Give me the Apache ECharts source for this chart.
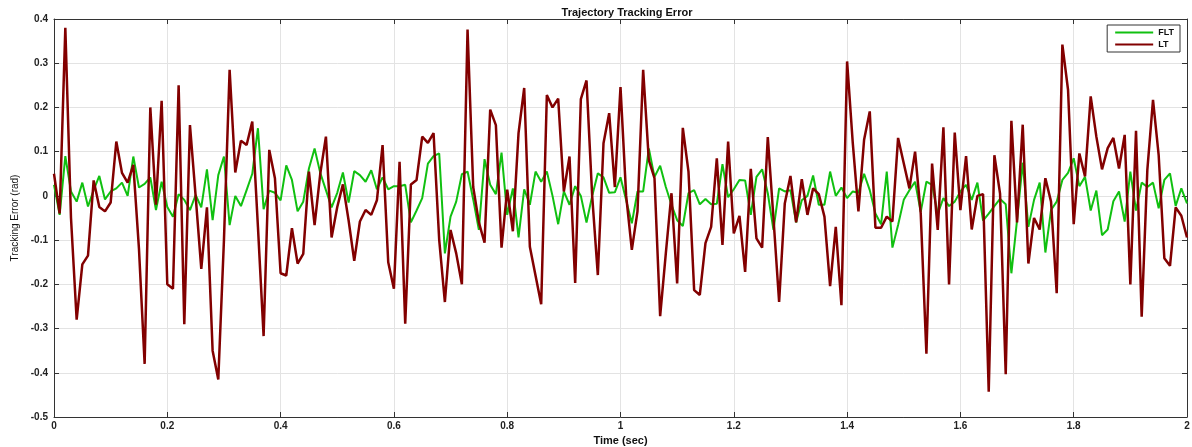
<!DOCTYPE html>
<html>
<head>
<meta charset="UTF-8">
<title>Trajectory Tracking Error</title>
<script src="https://cdn.jsdelivr.net/npm/echarts@6/dist/echarts.min.js"></script>
<style>
 html,body{margin:0;padding:0;background:#fff;}
 #mainChart{width:1192px;height:447px;}
</style>
</head>
<body>
<div id="mainChart"></div>
<script type="text/javascript">
// sample step of the time axis (sec)
var dt = 0.01;
var xTicks = [0, 0.2, 0.4, 0.6, 0.8, 1, 1.2, 1.4, 1.6, 1.8, 2];
var yTicks = [-0.5, -0.4, -0.3, -0.2, -0.1, 0, 0.1, 0.2, 0.3, 0.4];

// FLT tracking error, one value per 0.01 s
var fltErr = [
  0.025,-0.043,0.09,0.01,-0.013,0.03,-0.024,0.013,0.045,-0.008,
  0.01,0.017,0.03,0.0,0.089,0.019,0.027,0.042,-0.032,0.032,
  -0.025,-0.047,0.004,-0.009,-0.032,0.002,-0.026,0.06,-0.055,0.047,
  0.089,-0.066,0.0,-0.023,0.013,0.05,0.153,-0.03,0.012,0.007,
  -0.01,0.069,0.036,-0.035,-0.013,0.062,0.107,0.052,0.013,-0.026,
  0.007,0.053,-0.015,0.056,0.047,0.032,0.058,0.015,0.042,0.015,
  0.022,0.022,0.025,-0.06,-0.033,-0.005,0.073,0.09,0.096,-0.13,
  -0.047,-0.013,0.049,0.055,-0.008,-0.077,0.083,0.025,0.004,0.098,
  -0.043,0.017,-0.094,0.015,-0.02,0.055,0.032,0.055,0.0,-0.064,
  0.01,-0.02,0.022,0.0,-0.06,0.0,0.051,0.042,0.007,0.008,
  0.042,-0.01,-0.062,0.01,0.01,0.107,0.043,0.068,0.02,-0.02,
  -0.055,-0.068,0.006,0.013,-0.019,-0.007,-0.019,-0.018,0.072,-0.003,
  0.015,0.036,0.035,-0.043,0.043,0.06,0.006,-0.077,0.017,0.01,
  0.013,-0.06,-0.01,0.0,0.046,-0.02,-0.02,0.055,0.0,0.019,
  -0.005,0.01,0.007,0.05,0.013,-0.04,-0.064,0.055,-0.117,-0.066,
  -0.009,0.013,0.032,-0.036,0.032,0.025,-0.04,-0.005,-0.023,-0.013,
  0.01,0.025,-0.009,0.03,-0.056,-0.04,-0.023,-0.007,-0.019,-0.175,
  -0.055,0.075,-0.07,-0.009,0.03,-0.128,-0.032,-0.013,0.036,0.052,
  0.085,0.022,0.043,-0.033,0.012,-0.089,-0.076,-0.012,0.01,-0.058,
  0.055,-0.033,0.03,0.02,0.03,-0.028,0.036,0.051,-0.023,0.017,
  -0.017
];

// LT tracking error, one value per 0.01 s
var ltErr = [
  0.05,-0.04,0.38,-0.05,-0.28,-0.155,-0.135,0.035,-0.025,-0.035,
  -0.015,0.123,0.052,0.03,0.07,-0.12,-0.38,0.2,-0.02,0.215,
  -0.2,-0.21,0.25,-0.29,0.16,0.0,-0.165,-0.026,-0.35,-0.415,
  -0.1,0.285,0.053,0.125,0.115,0.168,-0.07,-0.317,0.104,0.04,
  -0.175,-0.18,-0.073,-0.153,-0.131,0.055,-0.066,0.05,0.134,-0.094,
  -0.025,0.026,-0.055,-0.147,-0.058,-0.032,-0.043,-0.01,0.115,-0.15,
  -0.21,0.077,-0.289,0.026,0.036,0.134,0.12,0.142,-0.1,-0.24,
  -0.077,-0.13,-0.2,0.376,0.02,-0.06,-0.106,0.195,0.16,-0.117,
  0.014,-0.08,0.142,0.244,-0.115,-0.18,-0.245,0.228,0.2,0.22,
  0.01,0.089,-0.197,0.219,0.261,0.0,-0.179,0.119,0.187,0.02,
  0.246,0.0,-0.122,-0.035,0.285,0.081,0.04,-0.272,-0.13,0.006,
  -0.198,0.154,0.055,-0.213,-0.224,-0.107,-0.07,0.085,-0.111,0.123,
  -0.085,-0.045,-0.172,0.061,-0.096,-0.117,0.133,-0.05,-0.24,-0.017,
  0.045,-0.06,0.038,-0.043,0.017,0.004,-0.047,-0.204,-0.07,-0.247,
  0.304,0.12,-0.035,0.127,0.191,-0.072,-0.072,-0.047,-0.058,0.131,
  0.074,0.017,0.1,-0.04,-0.357,0.073,-0.077,0.155,-0.2,0.143,
  -0.032,0.09,-0.076,0.0,0.004,-0.443,0.092,0.005,-0.403,0.17,
  -0.06,0.161,-0.153,-0.05,-0.076,0.04,-0.013,-0.22,0.342,0.24,
  -0.064,0.096,0.044,0.225,0.134,0.06,0.108,0.131,0.062,0.138,
  -0.2,0.147,-0.273,0.059,0.217,0.092,-0.141,-0.158,-0.026,-0.045,
  -0.094
];

function toPairs(arr){
  var out = [];
  for (var i = 0; i < arr.length; i++) {
    out.push([+(i * dt).toFixed(2), arr[i]]);
  }
  return out;
}

var labelFont = {color:'#222', fontSize:10, fontWeight:'bold', fontFamily:'Liberation Sans, Arial, sans-serif'};
var boxLine = {show:true, onZero:false, lineStyle:{color:'#333', width:1}};
var inTick = {show:true, inside:true, length:5, lineStyle:{color:'#333'}};
var gridLine = {show:true, lineStyle:{color:'#e3e3e3', width:1}};

var myChart = echarts.init(document.getElementById('mainChart'));
var option = {
  animation:false,
  backgroundColor:'#fff',
  title:{
    text:'Trajectory Tracking Error',
    left:622, top:2, textAlign:'center',
    textStyle:{fontSize:11, fontWeight:'bold', color:'#111', fontFamily:'Liberation Sans, Arial, sans-serif'}
  },
  legend:{
    orient:'vertical',
    right:12, top:25,
    data:['FLT','LT'],
    icon:'rect',
    itemWidth:38, itemHeight:2, itemGap:3,
    padding:[3,6,3,8],
    borderColor:'#333', borderWidth:1,
    backgroundColor:'#fff',
    textStyle:{fontSize:9, fontWeight:'bold', color:'#111', fontFamily:'Liberation Sans, Arial, sans-serif'}
  },
  grid:{left:54, right:5, top:19, bottom:30, outerBoundsMode:'none'},
  xAxis:[{
    type:'value', min:xTicks[0], max:xTicks[xTicks.length-1], interval:0.2,
    name:'Time (sec)', nameLocation:'middle', nameGap:12,
    nameTextStyle:{fontSize:11, fontWeight:'bold', color:'#111', fontFamily:'Liberation Sans, Arial, sans-serif'},
    axisLine:boxLine, axisTick:inTick, splitLine:gridLine,
    axisLabel:Object.assign({margin:4}, labelFont)
  },{
    type:'value', position:'top', min:xTicks[0], max:xTicks[xTicks.length-1], interval:0.2,
    axisLine:boxLine, axisTick:inTick, splitLine:{show:false}, axisLabel:{show:false}
  }],
  yAxis:[{
    type:'value', min:yTicks[0], max:yTicks[yTicks.length-1], interval:0.1,
    name:'Tracking Error (rad)', nameLocation:'middle', nameGap:30, nameRotate:90,
    nameTextStyle:{fontSize:10, color:'#111', fontFamily:'Liberation Sans Narrow, Liberation Sans, Arial, sans-serif'},
    axisLine:boxLine, axisTick:inTick, splitLine:gridLine,
    axisLabel:Object.assign({margin:6, formatter:function(v){return +v.toFixed(1) + '';}}, labelFont)
  },{
    type:'value', position:'right', min:yTicks[0], max:yTicks[yTicks.length-1], interval:0.1,
    axisLine:boxLine, axisTick:inTick, splitLine:{show:false}, axisLabel:{show:false}
  }],
  series:[
    {
      name:'FLT', type:'line', symbol:'none', xAxisIndex:0, yAxisIndex:0,
      lineStyle:{color:'#10c010', width:2}, itemStyle:{color:'#10c010'},
      data:toPairs(fltErr)
    },
    {
      name:'LT', type:'line', symbol:'none', xAxisIndex:0, yAxisIndex:0,
      lineStyle:{color:'#820000', width:2.5}, itemStyle:{color:'#820000'},
      data:toPairs(ltErr)
    }
  ]
};
myChart.setOption(option);
</script>
</body>
</html>
